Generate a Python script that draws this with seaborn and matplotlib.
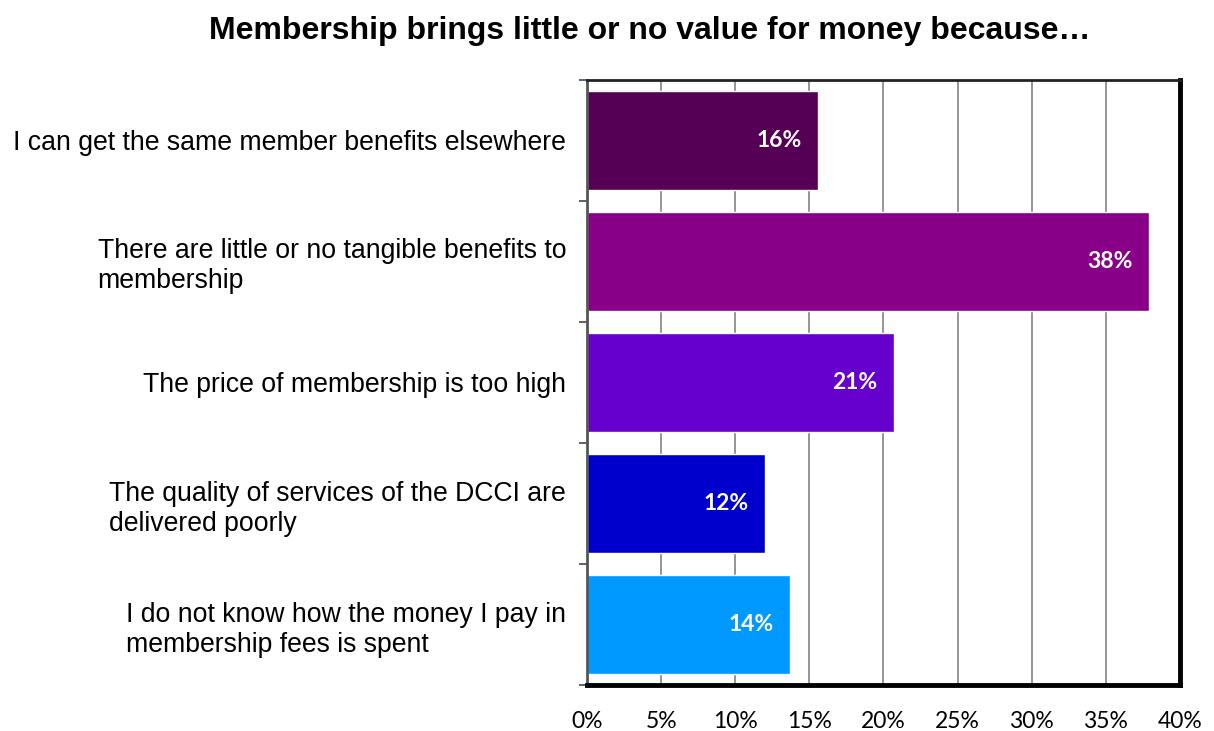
import matplotlib
matplotlib.use("Agg")
import matplotlib.pyplot as plt
import seaborn as sns
import pandas as pd
import numpy as np

# Survey answers and share of respondents (%)
reasons = [
    "I can get the same member benefits elsewhere",
    "There are little or no tangible benefits to\nmembership",
    "The price of membership is too high",
    "The quality of services of the DCCI are\ndelivered poorly",
    "I do not know how the money I pay in\nmembership fees is spent",
]
shares = [15.6, 37.9, 20.7, 12.0, 13.7]
bar_colors = ["#550055", "#880088", "#6600CC", "#0000CC", "#0099FF"]
x_ticks = [0, 5, 10, 15, 20, 25, 30, 35, 40]

df = pd.DataFrame({"reason": reasons, "share": shares})

sns.set_theme(style="white")
plt.rcParams["font.family"] = ["Liberation Sans", "DejaVu Sans"]
plt.rcParams["text.color"] = "black"
plt.rcParams["xtick.color"] = "black"
plt.rcParams["ytick.color"] = "black"

fig = plt.figure(figsize=(12.14, 7.31), dpi=100)
ax = fig.add_axes([0.4835, 0.0629, 0.4885, 0.8277])

sns.barplot(data=df, x="share", y="reason", hue="reason", palette=bar_colors,
            legend=False, width=0.82, saturation=1, ax=ax, zorder=3)

ax.set_xlim(0, 40)
ax.set_ylim(len(reasons) - 0.5, -0.5)
ax.set_xticks(x_ticks)
ax.set_xticklabels([f"{t}%" for t in x_ticks], fontfamily="Lato", fontsize=16.5)
ax.xaxis.grid(True, color="#8c8c8c", linewidth=1.3, zorder=0)
ax.yaxis.grid(False)
ax.set_xlabel("")
ax.set_ylabel("")
ax.tick_params(axis="x", length=0, pad=19)
ax.tick_params(axis="y", which="major", length=0, pad=15)
for lab in ax.get_yticklabels():
    lab.set_fontsize(19.2)
    lab.set_multialignment("left")
    lab.set_color("black")

# category boundary ticks on the left edge
ax.set_yticks(np.arange(-0.5, len(reasons) + 0.5, 1), minor=True)
ax.tick_params(axis="y", which="minor", length=6, width=1.3, color="#555555", left=True)

# value labels inside the bar ends
for i, v in enumerate(shares):
    ax.text(v - 1.1, i, f"{v:.0f}%", ha="right", va="center", color="white",
            fontsize=16.5, fontweight="bold", fontfamily="Lato", zorder=4)

for side in ["right", "bottom"]:
    ax.spines[side].set_color("black")
    ax.spines[side].set_linewidth(3.5)
ax.spines["top"].set_color("#222222")
ax.spines["top"].set_linewidth(2)
ax.spines["left"].set_color("#555555")
ax.spines["left"].set_linewidth(2)
for s in ax.spines.values():
    s.set_zorder(5)

fig.text(0.535, 0.957, "Membership brings little or no value for money because\u2026",
         ha="center", va="center", fontsize=23, fontweight="bold", color="black")

fig.savefig("out.png", dpi=100, facecolor="white")
